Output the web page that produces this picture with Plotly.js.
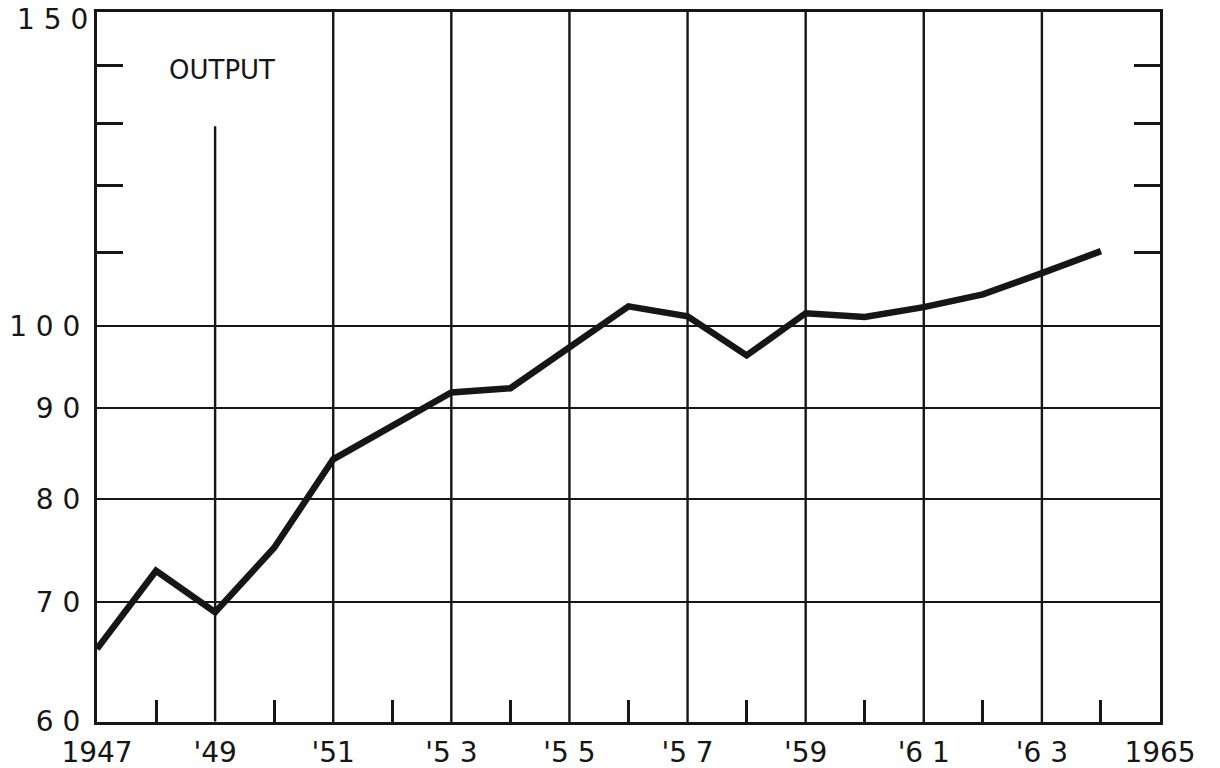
<!DOCTYPE html>
<html>
<head>
<meta charset="utf-8">
<script src="https://cdn.plot.ly/plotly-3.0.1.min.js"></script>
<style>
html, body { margin: 0; padding: 0; background: #ffffff; }
#chart { width: 1220px; height: 768px; }
</style>
</head>
<body>
<div id="chart"></div>
<script>
// ---- data ----
var years = [1947, 1948, 1949, 1950, 1951, 1952, 1953, 1954, 1955, 1956,
             1957, 1958, 1959, 1960, 1961, 1962, 1963, 1964];
var output = [65.9, 72.9, 69.1, 75.1, 84.2, 87.9, 91.8, 92.3, 97.2, 102.6,
              101.3, 96.3, 101.7, 101.2, 102.5, 104.2, 107.1, 110.2];

var xTickVals = [1947, 1949, 1951, 1953, 1955, 1957, 1959, 1961, 1963, 1965];
var xTickText = ["1947", "'49", "'51", "'5 3", "'5 5", "'5 7", "'59", "'6 1", "'6 3", "1965"];
var xMinorVals = [1948, 1950, 1952, 1954, 1956, 1958, 1960, 1962, 1964];
var xGridYears = [1951, 1953, 1955, 1957, 1959, 1961, 1963];
var partialGridYear = 1949;
var partialGridTop = 129.5;

var yTickVals = [60, 70, 80, 90, 100, 150];
var yTickText = ["6 0", "7 0", "8 0", "9 0", "1 0 0", ""];
var yTopLabel = "1 5 0";
var yMinorVals = [110, 120, 130, 140];

var seriesLabel = "OUTPUT";

// ---- chart ----
var ink = "#161616";
var fontFam = "DejaVu Sans, sans-serif";

var shapes = xGridYears.map(function (yr) {
  return { type: "line", xref: "x", yref: "paper", x0: yr, x1: yr, y0: 0, y1: 1,
           line: { color: ink, width: 2.4 }, layer: "below" };
});
shapes.push({ type: "line", xref: "x", yref: "y", x0: partialGridYear, x1: partialGridYear,
              y0: 60, y1: partialGridTop, line: { color: ink, width: 2.4 }, layer: "below" });

var trace = {
  x: years, y: output, type: "scatter", mode: "lines",
  line: { color: ink, width: 6.5 },
  hoverinfo: "x+y", showlegend: false
};

var layout = {
  width: 1220, height: 768,
  paper_bgcolor: "#ffffff", plot_bgcolor: "#ffffff",
  margin: { l: 97, r: 60, t: 12, b: 46 },
  font: { family: fontFam, color: ink, size: 28 },
  xaxis: {
    range: [1947, 1965],
    tickmode: "array", tickvals: xTickVals, ticktext: xTickText,
    ticks: "", showgrid: false, zeroline: false,
    showline: true, linecolor: ink, linewidth: 3, mirror: true,
    ticklabelstandoff: 3, ticklabeloverflow: "allow",
    tickfont: { family: fontFam, size: 28, color: ink },
    minor: { tickmode: "array", tickvals: xMinorVals, ticks: "inside",
             ticklen: 22, tickwidth: 3, tickcolor: ink, showgrid: false }
  },
  yaxis: {
    type: "log",
    range: [Math.log10(60) - 0.0003, Math.log10(150) + 0.0003],
    tickmode: "array", tickvals: yTickVals, ticktext: yTickText,
    ticks: "", showgrid: true, gridcolor: ink, gridwidth: 2.4, zeroline: false,
    showline: true, linecolor: ink, linewidth: 3, mirror: "allticks",
    ticklabelstandoff: 8, ticklabeloverflow: "allow",
    tickfont: { family: fontFam, size: 28, color: ink },
    minor: { tickmode: "array", tickvals: yMinorVals, ticks: "inside",
             ticklen: 26, tickwidth: 3, tickcolor: ink, showgrid: false }
  },
  shapes: shapes,
  annotations: [{
    text: seriesLabel, xref: "paper", yref: "paper",
    x: 0.118, y: 0.918, xanchor: "center", yanchor: "middle",
    showarrow: false, font: { family: fontFam, size: 26, color: ink }
  }, {
    text: yTopLabel, xref: "paper", yref: "paper",
    x: 0, y: 1, xanchor: "right", yanchor: "top", xshift: -8, yshift: 10,
    showarrow: false, borderpad: 0,
    font: { family: fontFam, size: 28, color: ink }
  }]
};

Plotly.newPlot("chart", [trace], layout, { displayModeBar: false, staticPlot: true });
</script>
</body>
</html>
